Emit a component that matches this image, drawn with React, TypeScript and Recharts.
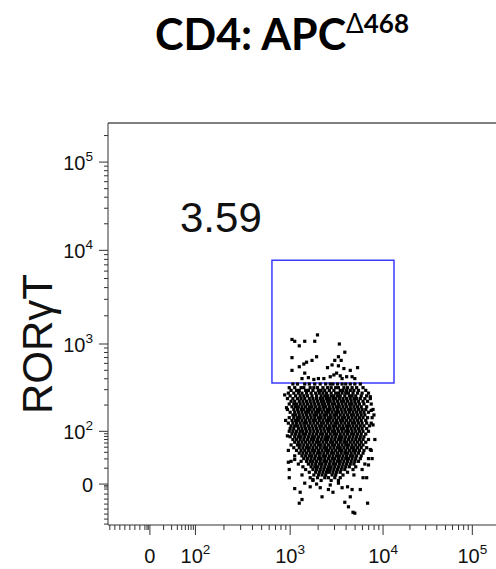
import { ScatterChart, Scatter, XAxis, YAxis, ReferenceArea, ReferenceLine } from "recharts";

// Display scale is a logicle-like "decade" unit: 3 ≈ 10^3, 1.46 ≈ 0
const X_DOMAIN = [1.0, 5.26];
const Y_DOMAIN = [1.01, 5.43];
const X_MAJOR = [1.46, 1.96, 3.0, 4.02, 5.0];
const Y_MAJOR = [1.46, 2.04, 3.0, 4.03, 5.0];
const TICK_LABELS = ["0", "10^2", "10^3", "10^4", "10^5"];

// RORγT+ gate
const GATE_X = [2.8, 4.14];
const GATE_Y = [2.57, 3.92];
const GATE_PCT = "3.59";

// dense body of the population, one row per y level: [y, x values]
const EVENT_ROWS: [number, number[]][] = [
  [2.56, [3.03, 3.08, 3.16, 3.21, 3.27, 3.33, 3.39, 3.44, 3.47, 3.52, 3.57, 3.61, 3.66, 3.71, 3.77]],
  [2.52, [2.99, 3.05, 3.12, 3.15, 3.22, 3.26, 3.3, 3.36, 3.41, 3.45, 3.5, 3.53, 3.59, 3.63, 3.68, 3.73, 3.8]],
  [2.49, [3.01, 3.07, 3.1, 3.17, 3.2, 3.25, 3.31, 3.34, 3.38, 3.43, 3.48, 3.55, 3.58, 3.62, 3.66, 3.7, 3.75, 3.83]],
  [2.46, [2.98, 3.04, 3.09, 3.13, 3.18, 3.23, 3.28, 3.32, 3.36, 3.4, 3.45, 3.5, 3.53, 3.57, 3.61, 3.64, 3.69, 3.74, 3.79, 3.86]],
  [2.43, [3.0, 3.06, 3.11, 3.15, 3.19, 3.24, 3.29, 3.34, 3.38, 3.41, 3.45, 3.48, 3.52, 3.55, 3.6, 3.65, 3.68, 3.72, 3.78, 3.84]],
  [2.4, [2.97, 3.03, 3.08, 3.12, 3.16, 3.21, 3.25, 3.29, 3.33, 3.36, 3.4, 3.43, 3.47, 3.5, 3.54, 3.58, 3.62, 3.66, 3.7, 3.73, 3.77, 3.82, 3.88]],
  [2.37, [3.01, 3.05, 3.1, 3.14, 3.18, 3.22, 3.26, 3.3, 3.34, 3.37, 3.41, 3.44, 3.48, 3.52, 3.56, 3.59, 3.63, 3.67, 3.71, 3.75, 3.8, 3.85]],
  [2.34, [2.99, 3.04, 3.07, 3.11, 3.15, 3.19, 3.23, 3.27, 3.31, 3.35, 3.38, 3.42, 3.46, 3.49, 3.53, 3.57, 3.61, 3.65, 3.68, 3.72, 3.76, 3.81, 3.89]],
  [2.31, [3.02, 3.06, 3.09, 3.13, 3.17, 3.21, 3.24, 3.28, 3.32, 3.36, 3.39, 3.43, 3.47, 3.51, 3.54, 3.58, 3.62, 3.66, 3.7, 3.74, 3.78, 3.84]],
  [2.28, [2.97, 3.04, 3.08, 3.12, 3.15, 3.19, 3.22, 3.26, 3.3, 3.33, 3.37, 3.41, 3.44, 3.48, 3.52, 3.56, 3.6, 3.64, 3.67, 3.71, 3.75, 3.79, 3.83, 3.91]],
  [2.25, [3.0, 3.05, 3.09, 3.13, 3.17, 3.2, 3.24, 3.28, 3.31, 3.35, 3.39, 3.42, 3.46, 3.5, 3.53, 3.57, 3.61, 3.65, 3.69, 3.73, 3.77, 3.81, 3.86]],
  [2.22, [3.03, 3.06, 3.1, 3.14, 3.18, 3.22, 3.26, 3.29, 3.33, 3.37, 3.4, 3.44, 3.48, 3.51, 3.55, 3.59, 3.63, 3.67, 3.7, 3.74, 3.78, 3.82]],
  [2.19, [2.99, 3.04, 3.08, 3.11, 3.15, 3.19, 3.23, 3.27, 3.31, 3.34, 3.38, 3.42, 3.45, 3.49, 3.53, 3.57, 3.6, 3.64, 3.68, 3.72, 3.76, 3.8, 3.85, 3.9]],
  [2.16, [3.02, 3.06, 3.09, 3.13, 3.17, 3.21, 3.25, 3.28, 3.32, 3.36, 3.4, 3.43, 3.47, 3.51, 3.55, 3.58, 3.62, 3.66, 3.7, 3.74, 3.78, 3.83]],
  [2.13, [2.98, 3.03, 3.07, 3.11, 3.15, 3.18, 3.22, 3.26, 3.3, 3.34, 3.37, 3.41, 3.45, 3.49, 3.52, 3.56, 3.6, 3.64, 3.68, 3.71, 3.75, 3.79, 3.84, 3.89]],
  [2.1, [3.01, 3.05, 3.08, 3.12, 3.16, 3.2, 3.24, 3.28, 3.32, 3.35, 3.39, 3.43, 3.47, 3.5, 3.54, 3.58, 3.62, 3.65, 3.69, 3.73, 3.77, 3.81, 3.87]],
  [2.07, [3.0, 3.04, 3.09, 3.13, 3.17, 3.21, 3.25, 3.29, 3.33, 3.37, 3.41, 3.44, 3.48, 3.52, 3.56, 3.59, 3.63, 3.67, 3.71, 3.75, 3.79, 3.84]],
  [2.04, [2.99, 3.03, 3.07, 3.11, 3.14, 3.18, 3.22, 3.26, 3.3, 3.34, 3.38, 3.42, 3.46, 3.49, 3.53, 3.57, 3.61, 3.64, 3.68, 3.72, 3.76, 3.8, 3.86]],
  [2.01, [3.02, 3.06, 3.1, 3.14, 3.17, 3.21, 3.25, 3.29, 3.33, 3.36, 3.4, 3.44, 3.48, 3.51, 3.55, 3.59, 3.63, 3.67, 3.7, 3.74, 3.78, 3.83]],
  [1.98, [3.0, 3.05, 3.09, 3.12, 3.16, 3.2, 3.24, 3.27, 3.31, 3.35, 3.39, 3.42, 3.46, 3.5, 3.54, 3.57, 3.61, 3.65, 3.69, 3.73, 3.77, 3.81]],
  [1.95, [3.03, 3.07, 3.11, 3.15, 3.19, 3.23, 3.26, 3.3, 3.34, 3.38, 3.41, 3.45, 3.49, 3.53, 3.56, 3.6, 3.64, 3.68, 3.72, 3.76, 3.8, 3.86]],
  [1.92, [3.05, 3.09, 3.13, 3.17, 3.21, 3.25, 3.29, 3.32, 3.36, 3.4, 3.44, 3.47, 3.51, 3.55, 3.59, 3.62, 3.66, 3.7, 3.74, 3.78, 3.83]],
  [1.89, [3.01, 3.08, 3.11, 3.15, 3.19, 3.23, 3.27, 3.31, 3.34, 3.38, 3.42, 3.46, 3.49, 3.53, 3.57, 3.61, 3.64, 3.68, 3.72, 3.76, 3.8]],
  [1.86, [3.04, 3.1, 3.14, 3.18, 3.21, 3.25, 3.29, 3.33, 3.37, 3.4, 3.44, 3.48, 3.52, 3.55, 3.59, 3.63, 3.67, 3.7, 3.74, 3.78, 3.84]],
  [1.83, [2.98, 3.07, 3.12, 3.16, 3.2, 3.24, 3.27, 3.31, 3.35, 3.39, 3.42, 3.46, 3.5, 3.54, 3.57, 3.61, 3.65, 3.69, 3.72, 3.76, 3.81, 3.89]],
  [1.8, [3.1, 3.14, 3.18, 3.22, 3.26, 3.3, 3.33, 3.37, 3.41, 3.45, 3.48, 3.52, 3.56, 3.6, 3.63, 3.67, 3.71, 3.75, 3.8]],
  [1.77, [3.05, 3.13, 3.17, 3.21, 3.24, 3.28, 3.32, 3.36, 3.39, 3.43, 3.47, 3.51, 3.54, 3.58, 3.62, 3.66, 3.69, 3.73, 3.78]],
  [1.74, [3.15, 3.19, 3.23, 3.27, 3.31, 3.34, 3.38, 3.42, 3.46, 3.49, 3.53, 3.57, 3.61, 3.64, 3.68, 3.72, 3.77, 3.86]],
  [1.71, [3.01, 3.12, 3.18, 3.22, 3.25, 3.29, 3.33, 3.37, 3.4, 3.44, 3.48, 3.52, 3.55, 3.59, 3.63, 3.67, 3.71, 3.75]],
  [1.68, [3.09, 3.2, 3.24, 3.28, 3.32, 3.35, 3.39, 3.43, 3.47, 3.5, 3.54, 3.58, 3.62, 3.66, 3.7, 3.82]],
  [1.65, [3.14, 3.23, 3.27, 3.3, 3.34, 3.38, 3.42, 3.45, 3.49, 3.53, 3.57, 3.61, 3.65, 3.72]],
  [1.62, [2.99, 3.17, 3.25, 3.29, 3.33, 3.37, 3.41, 3.44, 3.48, 3.52, 3.56, 3.6, 3.69, 3.79]],
  [1.59, [3.21, 3.28, 3.32, 3.36, 3.4, 3.43, 3.47, 3.51, 3.55, 3.63]],
  [1.56, [3.13, 3.26, 3.31, 3.35, 3.39, 3.46, 3.5, 3.58, 3.7]],
  [1.53, [2.99, 3.22, 3.3, 3.38, 3.42, 3.49, 3.55, 3.84]],
  [1.5, [3.25, 3.34, 3.45, 3.53]],
];

// scattered events: the gate, the ragged edges and the low tail, [x, y]
const SPARSE_EVENTS: [number, number][] = [
  [3.02, 3.05], [3.05, 3.03], [3.1, 2.98], [3.16, 3.03], [3.27, 3.03], [3.3, 3.1],
  [3.54, 3.0], [3.6, 2.91], [3.02, 2.85], [3.29, 2.86], [3.24, 2.82], [3.18, 2.8],
  [3.15, 2.78], [3.1, 2.75], [3.02, 2.71], [3.53, 2.86], [3.49, 2.82], [3.56, 2.82],
  [3.46, 2.77], [3.53, 2.76], [3.41, 2.74], [3.59, 2.73], [3.74, 2.74], [3.66, 2.71],
  [3.16, 2.68], [3.13, 2.62], [3.2, 2.63], [3.26, 2.61], [3.31, 2.62], [3.37, 2.62],
  [3.44, 2.64], [3.48, 2.66], [3.51, 2.68], [3.55, 2.65], [3.57, 2.62], [3.62, 2.64],
  [3.68, 2.64], [3.71, 2.62],
  [2.95, 2.16], [2.97, 1.99], [2.96, 2.3], [3.91, 2.11], [3.93, 1.95], [3.89, 2.27],
  [3.92, 2.22], [2.98, 1.7], [3.9, 1.74], [3.88, 2.42], [2.94, 2.44], [3.86, 1.67],
  [3.88, 1.84], [3.05, 1.73], [3.8, 1.53], [3.25, 1.51],
  [3.05, 1.41], [3.11, 1.37], [3.13, 1.29], [3.22, 1.43], [3.33, 1.42], [3.35, 1.32],
  [3.42, 1.4], [3.47, 1.37], [3.53, 1.47], [3.57, 1.42], [3.63, 1.43], [3.66, 1.32],
  [3.68, 1.4], [3.77, 1.4], [3.6, 1.26], [3.64, 1.21], [3.69, 1.15], [3.85, 1.25],
  [3.1, 1.25], [3.71, 1.14], [3.44, 1.45], [3.29, 1.46], [3.16, 1.47],
];

const events = [
  ...EVENT_ROWS.flatMap(([y, xs]) => xs.map((x) => ({ x, y }))),
  ...SPARSE_EVENTS.map(([x, y]) => ({ x, y })),
];

// minor ticks: linear steps below zero, log steps between majors
function buildTicks(major: number[], domain: number[]) {
  const out = [...major];
  for (let t = major[0] - 0.055; t > domain[0]; t -= 0.055) out.push(t);
  out.push(major[0] - 0.018, major[0] - 0.032);
  for (let i = 0; i < major.length - 1; i++) {
    for (let k = 2; k <= 9; k++) out.push(major[i] + (major[i + 1] - major[i]) * Math.log10(k));
  }
  const last = major[major.length - 1];
  const w = last - major[major.length - 2];
  for (let k = 2; k <= 9; k++) {
    const t = last + w * Math.log10(k);
    if (t < domain[1]) out.push(t);
  }
  return out.sort((a, b) => a - b);
}

const FONT = "'Liberation Sans', Arial, sans-serif";
const AXIS = "#333";
const TICK_FONT = 20;

function tickLabel(label: string) {
  const [base, exp] = label.split("^");
  return (
    <>
      {base}
      {exp && (
        <tspan dy={-9} fontSize={TICK_FONT * 0.68}>
          {exp}
        </tspan>
      )}
    </>
  );
}

const XTick = (props: any) => {
  const { x, y, payload } = props;
  const i = X_MAJOR.findIndex((m) => Math.abs(m - payload.value) < 1e-6);
  const major = i >= 0;
  return (
    <g>
      <line x1={x} x2={x} y1={y} y2={y + (major ? 10 : 5)} stroke={AXIS} />
      {major && (
        <text x={x} y={y + 38} textAnchor="middle" fontSize={TICK_FONT} fontFamily={FONT} fill="#111">
          {tickLabel(TICK_LABELS[i])}
        </text>
      )}
    </g>
  );
};

const YTick = (props: any) => {
  const { x, y, payload } = props;
  const i = Y_MAJOR.findIndex((m) => Math.abs(m - payload.value) < 1e-6);
  const major = i >= 0;
  return (
    <g>
      <line x1={x} x2={x - (major ? 9 : 4)} y1={y} y2={y} stroke={AXIS} />
      {major && (
        <text x={x - 15} y={y + 8} textAnchor="end" fontSize={TICK_FONT} fontFamily={FONT} fill="#111">
          {tickLabel(TICK_LABELS[i])}
        </text>
      )}
    </g>
  );
};

export default function App() {
  return (
    <div style={{ position: "absolute", left: 0, top: 0, width: 496, height: 569, background: "#fff" }}>
      <ScatterChart width={496} height={569} margin={{ top: 123, right: 0, bottom: 0, left: 48 }}>
        <XAxis
          type="number"
          dataKey="x"
          domain={X_DOMAIN}
          allowDataOverflow
          ticks={buildTicks(X_MAJOR, X_DOMAIN)}
          interval={0}
          tick={<XTick />}
          tickLine={false}
          tickSize={0}
          tickMargin={0}
          height={44}
          axisLine={{ stroke: AXIS }}
        />
        <YAxis
          type="number"
          dataKey="y"
          domain={Y_DOMAIN}
          allowDataOverflow
          ticks={buildTicks(Y_MAJOR, Y_DOMAIN)}
          interval={0}
          tick={<YTick />}
          tickLine={false}
          tickSize={0}
          tickMargin={0}
          width={60}
          axisLine={{ stroke: AXIS }}
        />
        <ReferenceLine y={Y_DOMAIN[1]} stroke="#555" strokeWidth={1.5} />
        <Scatter
          data={events}
          isAnimationActive={false}
          shape={(p: any) => <rect x={p.cx - 1.6} y={p.cy - 1.6} width={3.2} height={3.2} fill="#000" />}
        />
        <ReferenceArea
          x1={GATE_X[0]}
          x2={GATE_X[1]}
          y1={GATE_Y[0]}
          y2={GATE_Y[1]}
          fill="none"
          stroke="#3a3aff"
          strokeWidth={1.5}
        />
      </ScatterChart>
      <svg width={496} height={569} style={{ position: "absolute", left: 0, top: 0, pointerEvents: "none" }}>
        <text x={155} y={50} fontFamily="Lato, 'Open Sans', sans-serif" fontWeight={700} fontSize={43} fill="#000">
          CD4: APC
          <tspan dy={-17} fontSize={26}>
            <tspan fontWeight={400}>Δ</tspan>468
          </tspan>
        </text>
        <text x={180} y={232} fontFamily={FONT} fontSize={42} fill="#111">
          {GATE_PCT}
        </text>
        <text
          x={52}
          y={344}
          transform="rotate(-90 52 344)"
          textAnchor="middle"
          fontFamily={FONT}
          fontSize={42}
          fill="#111"
        >
          RORγT
        </text>
      </svg>
    </div>
  );
}
